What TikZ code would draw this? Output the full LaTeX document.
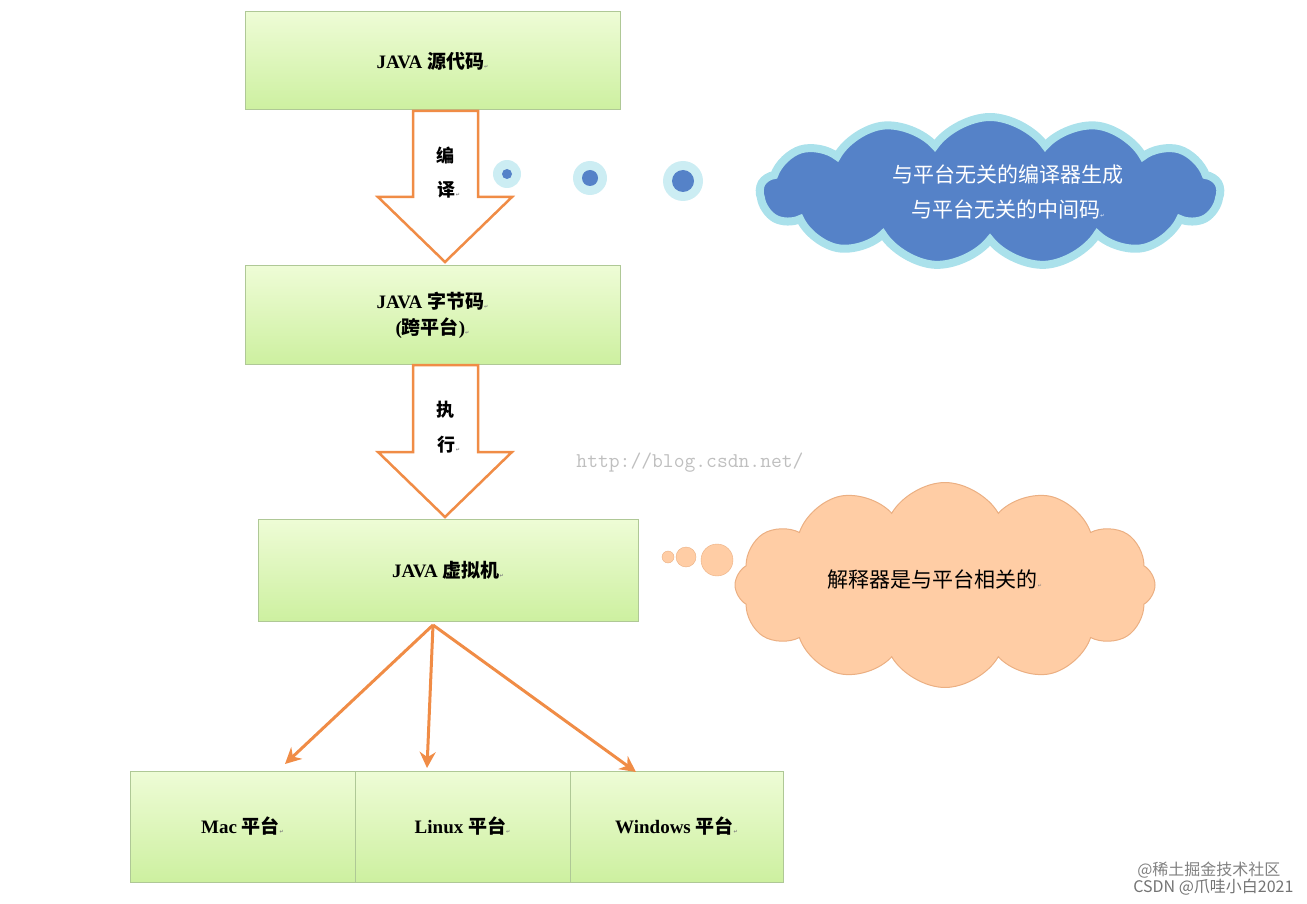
\documentclass[tikz,border=0pt]{standalone}
\usepackage{fontspec}
\setmainfont{Liberation Serif}
\newfontfamily\cjk{Noto Sans CJK SC}
\newfontfamily\dv{DejaVu Sans}
\usetikzlibrary{shapes.symbols,arrows.meta}
\definecolor{boxtop}{RGB}{238,252,214}
\definecolor{boxbot}{RGB}{205,240,160}
\definecolor{boxline}{RGB}{175,200,150}
\definecolor{arr}{RGB}{240,140,70}
\definecolor{cblue}{RGB}{85,130,200}
\definecolor{glow}{RGB}{170,225,235}
\definecolor{peach}{RGB}{255,205,165}
\definecolor{peachline}{RGB}{235,175,130}
\begin{document}
\begin{tikzpicture}[x=1pt,y=-1pt,
  gbox/.style={draw=boxline,line width=1pt,top color=boxtop,bottom color=boxbot,font=\bfseries\fontsize{19}{26}\selectfont,align=center,inner sep=0pt},
  hollow/.style={draw=arr,line width=2.5pt,fill=white,line join=miter},
  oarrow/.style={draw=arr,line width=3pt,-{Stealth[length=16pt,width=16pt]}},
  lab/.style={font=\cjk\bfseries\fontsize{18}{18}\selectfont}]
\useasboundingbox (0,0) rectangle (1307,904);
% boxes
\node[gbox,minimum width=375pt,minimum height=98pt] (src) at (432.5,61) {JAVA\ {\cjk 源代码}{\dv\tiny\color{gray}↵}};
\node[gbox,minimum width=375pt,minimum height=98pt] (byte) at (432.5,315) {JAVA\ {\cjk 字节码}{\dv\tiny\color{gray}↵}\\({\cjk 跨平台}){\dv\tiny\color{gray}↵}};
\node[gbox,minimum width=380pt,minimum height=102pt] (jvm) at (448,570) {JAVA\ {\cjk 虚拟机}{\dv\tiny\color{gray}↵}};
\node[gbox,minimum width=225pt,minimum height=111pt] (mac) at (242.5,826.5) {Mac\ {\cjk 平台}{\dv\tiny\color{gray}↵}};
\node[gbox,minimum width=215pt,minimum height=111pt] (linux) at (462.5,826.5) {Linux\ {\cjk 平台}{\dv\tiny\color{gray}↵}};
\node[gbox,minimum width=213pt,minimum height=111pt] (win) at (676.5,826.5) {Windows\ {\cjk 平台}{\dv\tiny\color{gray}↵}};
% hollow arrows
\draw[hollow] (413,111) -- (478,111) -- (478,197) -- (512,197) -- (445,262) -- (378,197) -- (413,197) -- cycle;
\draw[hollow] (413,365) -- (478,365) -- (478,452) -- (512,452) -- (445,517) -- (378,452) -- (413,452) -- cycle;
\node[lab] (l1) at (445,155) {编};
\node[lab] (l2) at (449,190) {译{\dv\tiny\color{gray}↵}};
\node[lab] (l3) at (445,410) {执};
\node[lab] (l4) at (449,445) {行{\dv\tiny\color{gray}↵}};
% dots
\foreach \x/\y/\r [count=\i] in {507/174/5,590/178/8,683/181/11}{
  \fill[glow,opacity=0.6] (\x,\y) circle (\r+9);
  \fill[cblue] (\x,\y) circle (\r) coordinate (d\i);
}
% blue cloud
\node[cloud,cloud puffs=13,cloud puff arc=110,aspect=3,minimum width=460pt,minimum height=150pt,draw=glow,line width=8pt,fill=cblue] (bc) at (990,192) {};
\node[text=white,font=\cjk\fontsize{21}{35}\selectfont,align=center] (bt) at (1008,192) {与平台无关的编译器生成\\与平台无关的中间码{\dv\tiny ↵}};
% orange cloud
\foreach \x/\y/\r [count=\i] in {668/557/6,686/557/10,717/560/16}{
  \draw[peachline,fill=peach] (\x,\y) circle (\r) coordinate (p\i);
}
\node[cloud,cloud puffs=12,cloud puff arc=120,aspect=2.1,minimum width=420pt,minimum height=205pt,draw=peachline,line width=1pt,fill=peach] (oc) at (945,585) {};
\node[font=\cjk\fontsize{21}{22}\selectfont] (ot) at (935,580) {解释器是与平台相关的{\dv\tiny\color{gray}↵}};
% orange arrows
\coordinate (o) at (433,625);
\draw[oarrow] (o) -- (285,764);
\draw[oarrow] (o) -- (427,768);
\draw[oarrow] (o) -- (636,772);
% watermarks
\node[text=gray!50,font=\ttfamily\fontsize{21}{21}\selectfont] (wm) at (690,463) {http://blog.csdn.net/};
\node[text=gray,font=\cjk\fontsize{16}{16}\selectfont,anchor=east] (w1) at (1284,870) {@稀土掘金技术社区};
\node[text=gray!90!black,font=\cjk\fontsize{16}{16}\selectfont,anchor=east] (w2) at (1297,887) {CSDN @爪哇小白2021};
\end{tikzpicture}
\end{document}
